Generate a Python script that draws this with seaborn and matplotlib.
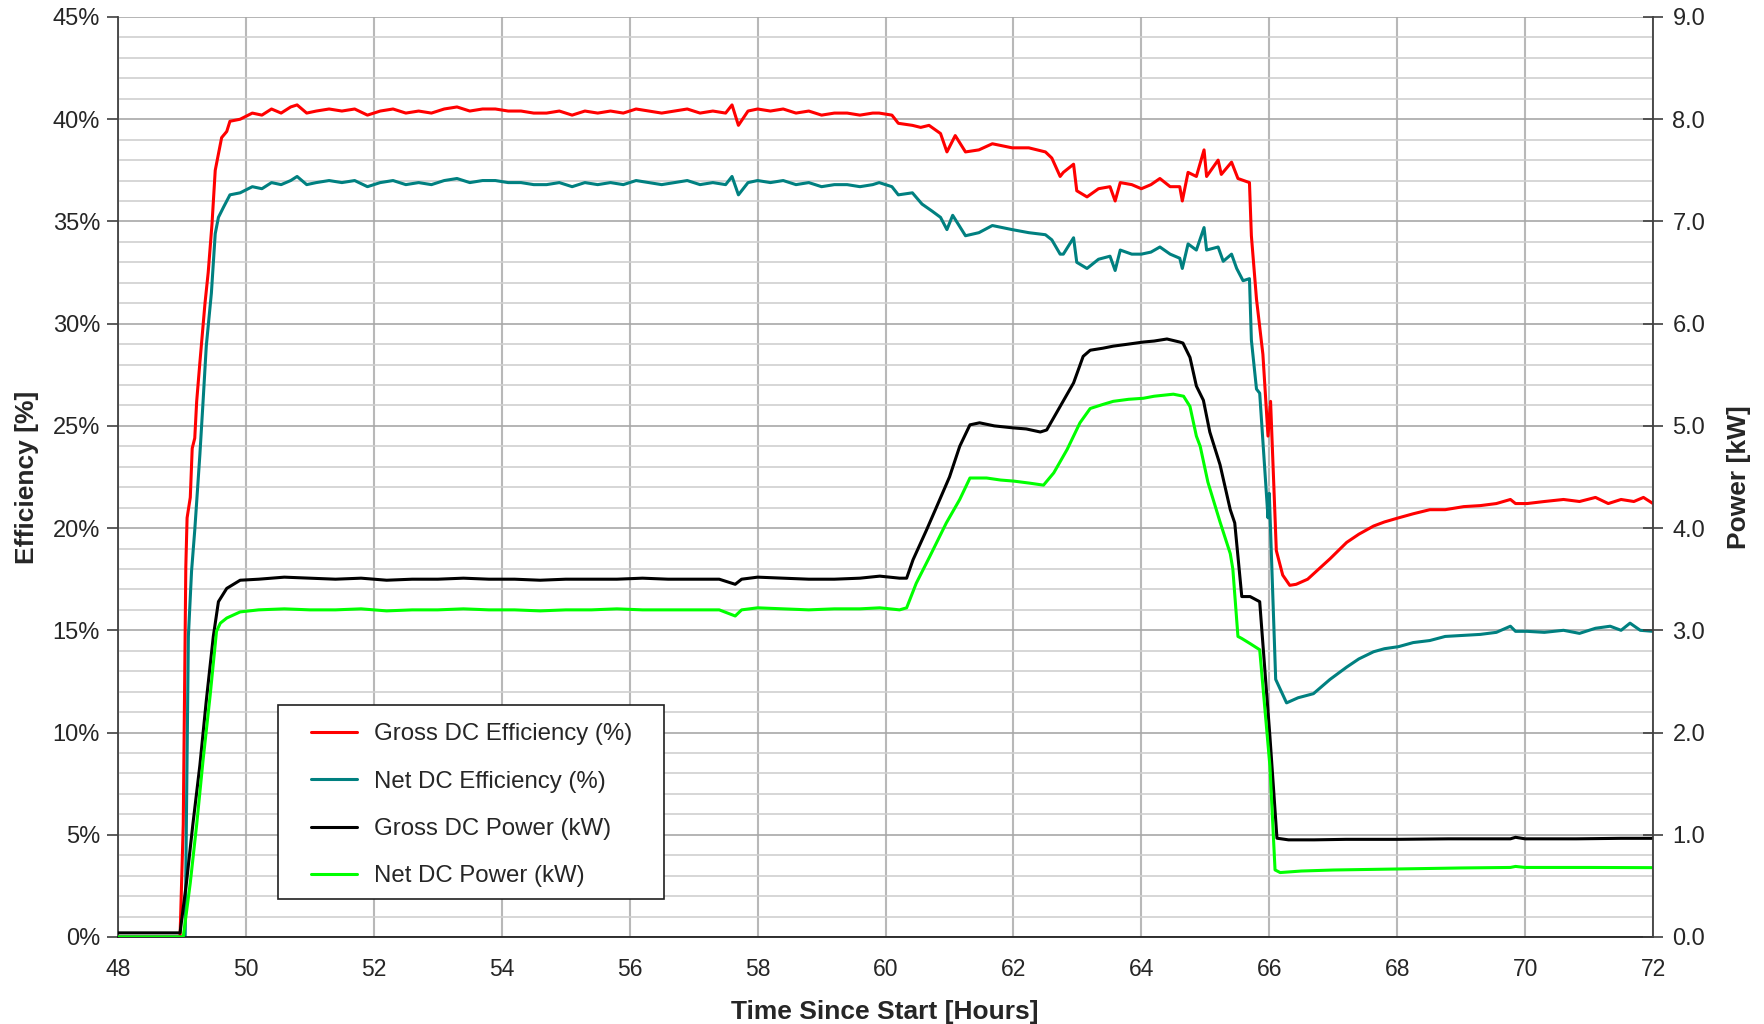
import numpy as np
import pandas as pd
import matplotlib
matplotlib.use("Agg")
import matplotlib.pyplot as plt
import matplotlib.ticker as mticker
from matplotlib.patches import Rectangle
import seaborn as sns

# Data

# Gross DC Efficiency (%) - left axis
t_gross_eff = [48.0, 48.97, 49.02, 49.06, 49.08, 49.13, 49.16, 49.2, 49.23, 49.28, 49.33, 49.36, 49.41,
               49.47, 49.52, 49.57, 49.62, 49.7, 49.75, 49.91, 50.1, 50.25, 50.4, 50.55, 50.7, 50.8, 50.95,
               51.1, 51.3, 51.5, 51.7, 51.9, 52.1, 52.3, 52.5, 52.7, 52.9, 53.1, 53.3, 53.5, 53.7, 53.9,
               54.1, 54.3, 54.5, 54.7, 54.9, 55.1, 55.3, 55.5, 55.7, 55.9, 56.1, 56.3, 56.5, 56.7, 56.9,
               57.1, 57.3, 57.5, 57.6, 57.7, 57.85, 58.0, 58.2, 58.4, 58.6, 58.8, 59.0, 59.2, 59.4, 59.6,
               59.8, 59.9, 60.1, 60.2, 60.42, 60.55, 60.68, 60.86, 60.96, 61.09, 61.25, 61.46, 61.67, 61.98,
               62.24, 62.5, 62.6, 62.73, 62.78, 62.94, 62.99, 63.15, 63.33, 63.51, 63.59, 63.67, 63.85, 64.0,
               64.15, 64.29, 64.45, 64.6, 64.64, 64.73, 64.86, 64.98, 65.02, 65.2, 65.25, 65.41, 65.51,
               65.69, 65.72, 65.8, 65.9, 65.98, 66.02, 66.11, 66.21, 66.32, 66.42, 66.6, 66.74, 66.95,
               67.21, 67.4, 67.63, 67.8, 68.02, 68.25, 68.51, 68.75, 69.04, 69.3, 69.55, 69.77, 69.85,
               70.03, 70.3, 70.6, 70.85, 71.1, 71.3, 71.5, 71.7, 71.85, 72.0]
gross_eff = [0, 0, 5.5, 18.1, 20.5, 21.5, 23.9, 24.4, 26.2, 28.1, 29.9, 31.0, 32.5,
             34.9, 37.5, 38.3, 39.1, 39.4, 39.9, 40.0, 40.3, 40.2, 40.5, 40.3, 40.6, 40.7, 40.3,
             40.4, 40.5, 40.4, 40.5, 40.2, 40.4, 40.5, 40.3, 40.4, 40.3, 40.5, 40.6, 40.4, 40.5, 40.5,
             40.4, 40.4, 40.3, 40.3, 40.4, 40.2, 40.4, 40.3, 40.4, 40.3, 40.5, 40.4, 40.3, 40.4, 40.5,
             40.3, 40.4, 40.3, 40.7, 39.7, 40.4, 40.5, 40.4, 40.5, 40.3, 40.4, 40.2, 40.3, 40.3, 40.2,
             40.3, 40.3, 40.2, 39.8, 39.7, 39.6, 39.7, 39.3, 38.4, 39.2, 38.4, 38.5, 38.8, 38.6,
             38.6, 38.4, 38.1, 37.2, 37.4, 37.8, 36.5, 36.2, 36.6, 36.7, 36.0, 36.9, 36.8, 36.6,
             36.8, 37.1, 36.7, 36.7, 36.0, 37.4, 37.2, 38.5, 37.2, 38.0, 37.3, 37.9, 37.1,
             36.9, 34.3, 31.2, 28.5, 24.5, 26.2, 18.9, 17.7, 17.2, 17.25, 17.5, 17.9, 18.5,
             19.3, 19.7, 20.1, 20.3, 20.5, 20.7, 20.9, 20.9, 21.05, 21.1, 21.2, 21.4, 21.2,
             21.2, 21.3, 21.4, 21.3, 21.5, 21.2, 21.4, 21.3, 21.5, 21.2]

# Net DC Efficiency (%) - left axis
t_net_eff = [48.0, 49.05, 49.1, 49.15, 49.2, 49.28, 49.33, 49.38, 49.46, 49.52, 49.57, 49.65, 49.75,
             49.91, 50.1, 50.25, 50.4, 50.55, 50.7, 50.8, 50.95, 51.1, 51.3, 51.5, 51.7, 51.9, 52.1,
             52.3, 52.5, 52.7, 52.9, 53.1, 53.3, 53.5, 53.7, 53.9, 54.1, 54.3, 54.5, 54.7, 54.9, 55.1,
             55.3, 55.5, 55.7, 55.9, 56.1, 56.3, 56.5, 56.7, 56.9, 57.1, 57.3, 57.5, 57.6, 57.7, 57.85,
             58.0, 58.2, 58.4, 58.6, 58.8, 59.0, 59.2, 59.4, 59.6, 59.8, 59.9, 60.1, 60.2, 60.42, 60.57,
             60.73, 60.86, 60.96, 61.05, 61.25, 61.46, 61.67, 61.98, 62.24, 62.5, 62.6, 62.73, 62.78,
             62.94, 62.99, 63.15, 63.33, 63.51, 63.59, 63.67, 63.85, 64.0, 64.15, 64.29, 64.45, 64.6,
             64.64, 64.73, 64.86, 64.98, 65.02, 65.2, 65.28, 65.41, 65.49, 65.59, 65.69, 65.72, 65.8,
             65.85, 65.98, 66.0, 66.1, 66.27, 66.45, 66.69, 66.95, 67.21, 67.4, 67.63, 67.8, 68.02,
             68.25, 68.51, 68.75, 69.04, 69.3, 69.55, 69.77, 69.85, 70.03, 70.3, 70.6, 70.85, 71.1,
             71.33, 71.5, 71.64, 71.8, 72.0]
net_eff = [0, 0, 14.7, 17.9, 19.9, 23.6, 26.2, 28.9, 31.5, 34.4, 35.2, 35.7, 36.3,
           36.4, 36.7, 36.6, 36.9, 36.8, 37.0, 37.2, 36.8, 36.9, 37.0, 36.9, 37.0, 36.7, 36.9,
           37.0, 36.8, 36.9, 36.8, 37.0, 37.1, 36.9, 37.0, 37.0, 36.9, 36.9, 36.8, 36.8, 36.9, 36.7,
           36.9, 36.8, 36.9, 36.8, 37.0, 36.9, 36.8, 36.9, 37.0, 36.8, 36.9, 36.8, 37.2, 36.3, 36.9,
           37.0, 36.9, 37.0, 36.8, 36.9, 36.7, 36.8, 36.8, 36.7, 36.8, 36.9, 36.7, 36.3, 36.4, 35.85,
           35.5, 35.2, 34.6, 35.3, 34.3, 34.45, 34.8, 34.6, 34.45, 34.35, 34.1, 33.4, 33.4,
           34.2, 33.0, 32.7, 33.15, 33.3, 32.6, 33.6, 33.4, 33.4, 33.5, 33.75, 33.4, 33.2,
           32.7, 33.9, 33.6, 34.7, 33.6, 33.75, 33.05, 33.4, 32.7, 32.1, 32.2, 29.2, 26.8,
           26.6, 20.5, 21.7, 12.6, 11.45, 11.7, 11.9, 12.6, 13.2, 13.6, 13.95, 14.1, 14.2,
           14.4, 14.5, 14.7, 14.75, 14.8, 14.9, 15.2, 14.95, 14.95, 14.9, 15.0, 14.85, 15.1,
           15.2, 15.0, 15.35, 15.0, 14.95]

# Gross DC Power (kW) - right axis
t_gross_pow = [48.0, 48.97, 49.07, 49.17, 49.28, 49.38, 49.49, 49.57, 49.7, 49.91, 50.2, 50.6, 51.0,
               51.4, 51.8, 52.2, 52.6, 53.0, 53.4, 53.8, 54.2, 54.6, 55.0, 55.4, 55.8, 56.2, 56.6, 57.0,
               57.4, 57.65, 57.75, 58.0, 58.4, 58.8, 59.2, 59.6, 59.91, 60.22, 60.33, 60.43, 60.64, 60.8,
               61.0, 61.16, 61.32, 61.47, 61.7, 62.0, 62.2, 62.42, 62.52, 62.73, 62.94, 63.09, 63.2,
               63.4, 63.56, 63.8, 64.03, 64.2, 64.4, 64.6, 64.65, 64.76, 64.86, 64.97, 65.07, 65.23,
               65.39, 65.46, 65.57, 65.7, 65.85, 66.01, 66.12, 66.3, 66.7, 67.2, 68.0, 68.8, 69.77,
               69.85, 70.0, 70.8, 71.5, 72.0]
gross_pow = [0.04, 0.04, 0.53, 1.10, 1.68, 2.31, 2.94, 3.28, 3.41, 3.49, 3.50, 3.52, 3.51,
             3.50, 3.51, 3.49, 3.50, 3.50, 3.51, 3.50, 3.50, 3.49, 3.50, 3.50, 3.50, 3.51, 3.50, 3.50,
             3.50, 3.45, 3.50, 3.52, 3.51, 3.50, 3.50, 3.51, 3.53, 3.51, 3.51, 3.69, 3.98, 4.21,
             4.50, 4.80, 5.01, 5.03, 5.00, 4.98, 4.97, 4.94, 4.96, 5.19, 5.42, 5.68, 5.74,
             5.76, 5.78, 5.80, 5.82, 5.83, 5.85, 5.82, 5.81, 5.67, 5.39, 5.25, 4.94, 4.62,
             4.18, 4.05, 3.33, 3.33, 3.28, 1.96, 0.966, 0.95, 0.95, 0.955, 0.955, 0.96, 0.96,
             0.975, 0.96, 0.96, 0.965, 0.965]

# Net DC Power (kW) - right axis
t_net_pow = [48.0, 49.02, 49.13, 49.23, 49.33, 49.44, 49.54, 49.6, 49.7, 49.91, 50.2, 50.6, 51.0,
             51.4, 51.8, 52.2, 52.6, 53.0, 53.4, 53.8, 54.2, 54.6, 55.0, 55.4, 55.8, 56.2, 56.6, 57.0,
             57.4, 57.65, 57.75, 58.0, 58.4, 58.8, 59.2, 59.6, 59.91, 60.22, 60.33, 60.48, 60.69, 60.95,
             61.16, 61.32, 61.58, 61.8, 62.0, 62.25, 62.47, 62.63, 62.84, 63.04, 63.2, 63.4, 63.56,
             63.8, 64.03, 64.2, 64.35, 64.5, 64.66, 64.76, 64.86, 64.92, 65.04, 65.23, 65.39, 65.43,
             65.51, 65.57, 65.7, 65.85, 66.01, 66.09, 66.17, 66.5, 67.0, 68.0, 69.0, 69.77, 69.85,
             70.0, 71.0, 72.0]
net_pow = [0.0, 0.0, 0.53, 1.10, 1.73, 2.36, 2.99, 3.07, 3.12, 3.18, 3.20, 3.21, 3.20,
           3.20, 3.21, 3.19, 3.20, 3.20, 3.21, 3.20, 3.20, 3.19, 3.20, 3.20, 3.21, 3.20, 3.20, 3.20,
           3.20, 3.14, 3.20, 3.22, 3.21, 3.20, 3.21, 3.21, 3.22, 3.20, 3.22, 3.46, 3.72, 4.05,
           4.28, 4.49, 4.49, 4.47, 4.46, 4.44, 4.42, 4.54, 4.77, 5.03, 5.17, 5.21, 5.24,
           5.26, 5.27, 5.29, 5.30, 5.31, 5.29, 5.19, 4.90, 4.80, 4.45, 4.06, 3.75, 3.60,
           2.94, 2.92, 2.87, 2.81, 1.67, 0.656, 0.63, 0.645, 0.655, 0.665, 0.675, 0.68, 0.69,
           0.68, 0.68, 0.678]

labels = ["Gross DC Efficiency (%)", "Net DC Efficiency (%)",
          "Gross DC Power (kW)", "Net DC Power (kW)"]
colors = ["#FF0000", "#008080", "#000000", "#00FF00"]

# Style

sns.set_style("white")
plt.rcParams["font.family"] = ["Liberation Sans", "DejaVu Sans"]

fig, ax = plt.subplots(figsize=(17.64, 10.24), dpi=100)
fig.subplots_adjust(left=0.0669, right=0.9371, bottom=0.085, top=0.9834)
ax2 = ax.twinx()

lw = 2.2
sns.lineplot(x=t_gross_eff, y=gross_eff, ax=ax, color=colors[0], linewidth=lw, label=labels[0])
sns.lineplot(x=t_net_eff, y=net_eff, ax=ax, color=colors[1], linewidth=lw, label=labels[1])
sns.lineplot(x=t_gross_pow, y=gross_pow, ax=ax2, color=colors[2], linewidth=lw, label=labels[2])
sns.lineplot(x=t_net_pow, y=net_pow, ax=ax2, color=colors[3], linewidth=lw, label=labels[3])

# Axes limits and ticks

ax.set_xlim(48, 72)
ax.set_ylim(0, 45)
ax2.set_ylim(0, 9)

ax.xaxis.set_major_locator(mticker.MultipleLocator(2))
ax.yaxis.set_major_locator(mticker.MultipleLocator(5))
ax.yaxis.set_minor_locator(mticker.MultipleLocator(1))
ax.yaxis.set_major_formatter(mticker.FuncFormatter(lambda v, p: f"{v:.0f}%"))
ax2.yaxis.set_major_locator(mticker.MultipleLocator(1))
ax2.yaxis.set_major_formatter(mticker.FormatStrFormatter("%.1f"))

ax.grid(which="major", axis="y", color="#a8a8a8", linewidth=1.2)
ax.grid(which="minor", axis="y", color="#d0d0d0", linewidth=1.2)
ax.grid(which="major", axis="x", color="#b8b8b8", linewidth=1.5)
ax.set_axisbelow(True)

spine_col = "#404040"
for s in ["top", "right"]:
    ax.spines[s].set_visible(False)
for s in ["top", "left", "bottom"]:
    ax2.spines[s].set_visible(False)
ax.spines["left"].set_color(spine_col)
ax.spines["bottom"].set_color("#202020")
ax2.spines["right"].set_color(spine_col)
for s in [ax.spines["left"], ax.spines["bottom"], ax2.spines["right"]]:
    s.set_linewidth(1.3)

ax.tick_params(axis="y", which="major", direction="out", length=8, width=1.2,
               color=spine_col, labelsize=17, pad=5)
ax.tick_params(axis="y", which="minor", length=0)
ax.tick_params(axis="x", which="major", direction="out", length=7, width=1.2,
               color=spine_col, labelsize=16.5, pad=8)
ax2.tick_params(axis="y", which="major", direction="inout", length=14, width=1.2,
                color=spine_col, labelsize=17, pad=7)

ax.set_xlabel("Time Since Start [Hours]", fontsize=19, fontweight="bold")
ax.set_ylabel("Efficiency [%]", fontsize=19, fontweight="bold")
ax2.set_ylabel("Power [kW]", fontsize=19, fontweight="bold", rotation=90)
ax.xaxis.set_label_coords(0.4997, -0.069)
ax.yaxis.set_label_coords(-0.0515, 0.5)
ax2.yaxis.set_label_coords(1.048, 0.5)

# Legend with a square black frame

h1, l1 = ax.get_legend_handles_labels()
h2, l2 = ax2.get_legend_handles_labels()
if ax.get_legend() is not None:
    ax.get_legend().remove()
if ax2.get_legend() is not None:
    ax2.get_legend().remove()

frame = Rectangle((0.104, 0.041), 0.252, 0.211, transform=ax2.transAxes,
                  facecolor="white", edgecolor="#202020", linewidth=1.2, zorder=10)
ax2.add_patch(frame)
leg = ax2.legend(h1 + h2, l1 + l2, loc="upper left", bbox_to_anchor=(0.126, 0.2325),
                 frameon=False, fontsize=17.3, handlelength=1.9, handletextpad=0.7,
                 labelspacing=1.06, borderpad=0, borderaxespad=0)
leg.set_zorder(11)

fig.savefig("out.png", dpi=100)
